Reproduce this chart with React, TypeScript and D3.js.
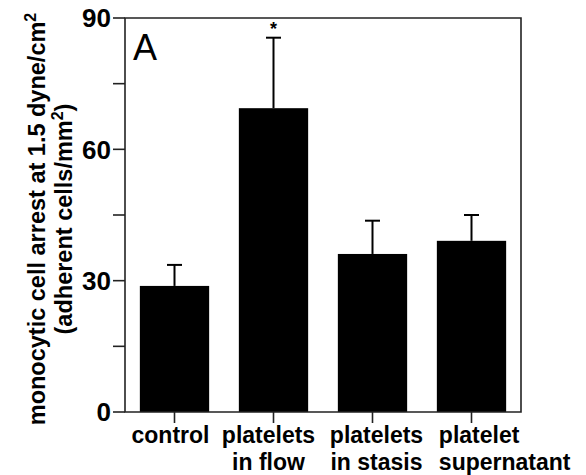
import React, { useEffect, useRef } from 'react';
import * as d3 from 'd3';

const categories = ['control', 'platelets\nin flow', 'platelets\nin stasis', 'platelet\nsupernatant'];
const means = [28.8, 69.4, 36.1, 39.1];
const errors = [4.8, 16.1, 7.6, 5.9];
const significant = [false, true, false, false];
const majorTicks = [0, 30, 60, 90];
const minorTicks = [15, 45, 75];

const W = 586;
const H = 475;
const FONT = '"Liberation Sans", Arial, Helvetica, sans-serif';
// small hand nudges of the category labels, as in the original figure
const labelShift = [-4, -5, 4, 0];

export default function App() {
  const ref = useRef<SVGSVGElement | null>(null);

  useEffect(() => {
    if (!ref.current) return;
    const svg = d3.select(ref.current);
    svg.selectAll('*').remove();

    const left = 125, right = 521, top = 18, bottom = 412;

    const x = d3.scaleBand<string>()
      .domain(categories)
      .range([left, right])
      .paddingInner(0.3)
      .paddingOuter(0.15);
    const y = d3.scaleLinear().domain([0, 90]).range([bottom, top]);

    const g = svg.append('g');

    // bars
    g.selectAll('rect.bar')
      .data(categories)
      .enter().append('rect')
      .attr('class', 'bar')
      .attr('x', d => x(d)!)
      .attr('width', x.bandwidth())
      .attr('y', (_d, i) => y(means[i]))
      .attr('height', (_d, i) => bottom - y(means[i]))
      .attr('fill', '#000');

    // error bars, upper half only
    const capW = 15;
    categories.forEach((c, i) => {
      const cx = x(c)! + x.bandwidth() / 2;
      const y0 = y(means[i]);
      const y1 = y(means[i] + errors[i]);
      g.append('line')
        .attr('x1', cx).attr('x2', cx).attr('y1', y0).attr('y2', y1)
        .attr('stroke', '#000').attr('stroke-width', 2);
      g.append('line')
        .attr('x1', cx - capW / 2).attr('x2', cx + capW / 2).attr('y1', y1).attr('y2', y1)
        .attr('stroke', '#000').attr('stroke-width', 2);
      if (significant[i]) {
        g.append('text')
          .attr('x', cx).attr('y', y1 - 3)
          .attr('text-anchor', 'middle')
          .style('font', `bold 18px ${FONT}`)
          .text('*');
      }
    });

    // frame
    g.append('path')
      .attr('d', `M${left},${top}H${right}V${bottom}H${left}Z`)
      .attr('fill', 'none').attr('stroke', '#222').attr('stroke-width', 1.6);

    // y ticks
    [...majorTicks, ...minorTicks].forEach(t => {
      g.append('line')
        .attr('x1', left - 12).attr('x2', left).attr('y1', y(t)).attr('y2', y(t))
        .attr('stroke', '#222').attr('stroke-width', 1.6);
    });
    majorTicks.forEach(t => {
      g.append('text')
        .attr('x', left - 14).attr('y', y(t))
        .attr('dy', '0.36em')
        .attr('text-anchor', 'end')
        .style('font', `bold 26px ${FONT}`)
        .text(t);
    });

    // x ticks and labels (last label is left-aligned to its bar, like the original)
    categories.forEach((c, i) => {
      const cx = x(c)! + x.bandwidth() / 2;
      g.append('line')
        .attr('x1', cx).attr('x2', cx).attr('y1', bottom).attr('y2', bottom + 11)
        .attr('stroke', '#222').attr('stroke-width', 1.6);
      const last = i === categories.length - 1;
      const lx = last ? x(c)! + 2 : cx + labelShift[i];
      const lines = c.split('\n');
      const t = g.append('text')
        .attr('text-anchor', last ? 'start' : 'middle')
        .style('font', `bold 23px ${FONT}`);
      lines.forEach((ln, k) => {
        t.append('tspan').attr('x', lx).attr('y', 443 + k * 27).text(ln);
      });
    });

    // panel letter
    g.append('text')
      .attr('x', 133).attr('y', 60)
      .style('font', `36px ${FONT}`)
      .text('A');

    // y axis title
    const yt = g.append('g').attr('transform', 'translate(0,219) rotate(-90)');
    const t1 = yt.append('text').attr('x', 0).attr('y', 45).attr('text-anchor', 'middle')
      .style('font', `bold 23.5px ${FONT}`);
    t1.append('tspan').text('monocytic cell arrest at 1.5 dyne/cm');
    t1.append('tspan').attr('dy', -9).style('font-size', '16px').text('2');
    const t2 = yt.append('text').attr('x', 0).attr('y', 72).attr('text-anchor', 'middle')
      .style('font', `bold 23.5px ${FONT}`);
    t2.append('tspan').text('(adherent cells/mm');
    t2.append('tspan').attr('dy', -9).style('font-size', '16px').text('2');
    t2.append('tspan').attr('dy', 9).text(')');
  }, []);

  return (
    <svg ref={ref} width={W} height={H}
      style={{ position: 'absolute', left: 0, top: 0, background: '#fff' }} />
  );
}
